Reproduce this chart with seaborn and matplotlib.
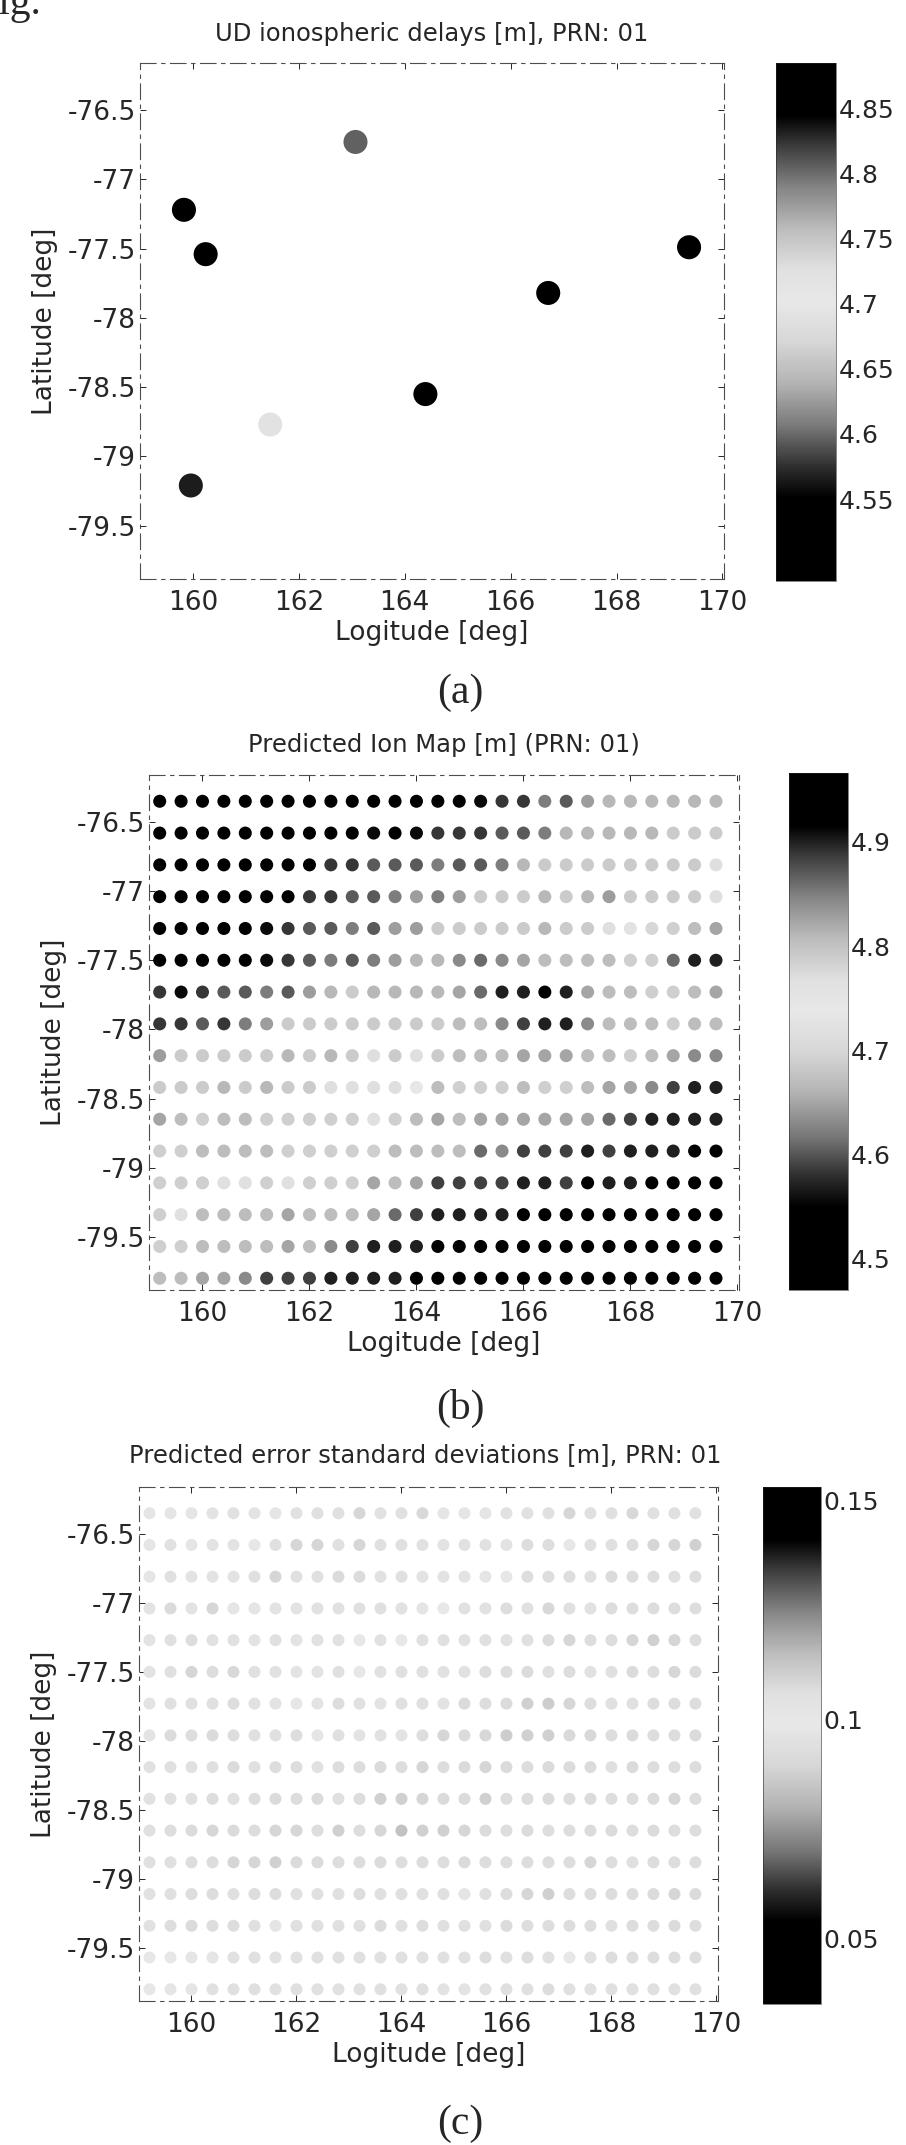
import numpy as np
import pandas as pd
import matplotlib
matplotlib.use("Agg")
import matplotlib.pyplot as plt
import seaborn as sns
from matplotlib.colors import LinearSegmentedColormap, Normalize
from matplotlib.ticker import FuncFormatter

# ---- panel (a): UD ionospheric delays at the stations ----
ud_lon = [163.07, 159.83, 160.24, 169.37, 166.71, 164.39, 161.46, 159.96]
ud_lat = [-76.73, -77.22, -77.54, -77.49, -77.82, -78.55, -78.77, -79.21]
ud_delay = [4.805, 4.885, 4.87, 4.50, 4.52, 4.487, 4.72, 4.565]
ud_range = (4.487, 4.885)
ud_cbar_ticks = [4.55, 4.6, 4.65, 4.7, 4.75, 4.8, 4.85]

# ---- grid used by panels (b) and (c) ----
grid_lon = [159.2, 159.6, 160.0, 160.4, 160.8, 161.2, 161.6, 162.0, 162.4,
            162.8, 163.2, 163.6, 164.0, 164.4, 164.8, 165.2, 165.6, 166.0,
            166.4, 166.8, 167.2, 167.6, 168.0, 168.4, 168.8, 169.2, 169.6]
grid_lat = [-76.35, -76.58, -76.81, -77.04, -77.27, -77.50, -77.73, -77.96,
            -78.19, -78.42, -78.65, -78.88, -79.11, -79.34, -79.57, -79.80]

# ---- panel (b): predicted ion map [m], one row per latitude ----
ion_map = [
    [4.96, 4.96, 4.96, 4.96, 4.96, 4.95, 4.95, 4.95, 4.95, 4.95, 4.94, 4.94, 4.94, 4.93,
     4.93, 4.91, 4.89, 4.89, 4.85, 4.87, 4.83, 4.81, 4.81, 4.81, 4.81, 4.81, 4.81],
    [4.96, 4.96, 4.95, 4.95, 4.95, 4.95, 4.94, 4.94, 4.94, 4.94, 4.91, 4.93, 4.91, 4.89,
     4.89, 4.89, 4.87, 4.87, 4.85, 4.81, 4.81, 4.81, 4.81, 4.81, 4.79, 4.79, 4.79],
    [4.95, 4.95, 4.95, 4.95, 4.95, 4.94, 4.94, 4.93, 4.89, 4.89, 4.87, 4.87, 4.87, 4.85,
     4.87, 4.87, 4.85, 4.81, 4.79, 4.79, 4.79, 4.79, 4.79, 4.79, 4.79, 4.79, 4.77],
    [4.95, 4.95, 4.95, 4.95, 4.94, 4.94, 4.93, 4.89, 4.89, 4.87, 4.87, 4.85, 4.83, 4.85,
     4.83, 4.79, 4.79, 4.79, 4.81, 4.79, 4.81, 4.83, 4.79, 4.79, 4.79, 4.79, 4.77],
    [4.95, 4.95, 4.94, 4.94, 4.93, 4.91, 4.89, 4.87, 4.87, 4.85, 4.87, 4.83, 4.83, 4.79,
     4.79, 4.79, 4.79, 4.79, 4.81, 4.79, 4.79, 4.77, 4.76, 4.70, 4.69, 4.67, 4.65],
    [4.95, 4.94, 4.94, 4.94, 4.93, 4.91, 4.89, 4.87, 4.85, 4.87, 4.85, 4.83, 4.81, 4.81,
     4.63, 4.61, 4.63, 4.65, 4.67, 4.67, 4.67, 4.67, 4.69, 4.69, 4.61, 4.57, 4.57],
    [4.89, 4.91, 4.89, 4.87, 4.87, 4.85, 4.87, 4.83, 4.81, 4.79, 4.81, 4.81, 4.81, 4.81,
     4.65, 4.61, 4.57, 4.57, 4.54, 4.57, 4.65, 4.67, 4.67, 4.69, 4.69, 4.67, 4.65],
    [4.89, 4.89, 4.87, 4.89, 4.85, 4.83, 4.79, 4.79, 4.79, 4.79, 4.79, 4.79, 4.79, 4.79,
     4.67, 4.67, 4.63, 4.59, 4.57, 4.57, 4.63, 4.67, 4.67, 4.67, 4.69, 4.67, 4.67],
    [4.83, 4.79, 4.79, 4.79, 4.79, 4.79, 4.81, 4.79, 4.81, 4.79, 4.77, 4.79, 4.77, 4.79,
     4.67, 4.67, 4.67, 4.65, 4.65, 4.65, 4.67, 4.67, 4.69, 4.67, 4.65, 4.63, 4.63],
    [4.79, 4.79, 4.79, 4.81, 4.79, 4.81, 4.79, 4.79, 4.77, 4.77, 4.77, 4.77, 4.74, 4.67,
     4.69, 4.69, 4.69, 4.67, 4.69, 4.69, 4.67, 4.65, 4.65, 4.63, 4.59, 4.57, 4.57],
    [4.65, 4.67, 4.69, 4.67, 4.67, 4.69, 4.69, 4.69, 4.69, 4.69, 4.72, 4.69, 4.67, 4.65,
     4.67, 4.65, 4.65, 4.65, 4.65, 4.65, 4.65, 4.61, 4.59, 4.57, 4.57, 4.57, 4.57],
    [4.69, 4.69, 4.67, 4.67, 4.67, 4.67, 4.69, 4.69, 4.69, 4.69, 4.69, 4.67, 4.67, 4.67,
     4.67, 4.61, 4.63, 4.59, 4.59, 4.59, 4.57, 4.59, 4.57, 4.57, 4.57, 4.54, 4.54],
    [4.69, 4.69, 4.69, 4.72, 4.72, 4.69, 4.72, 4.69, 4.69, 4.69, 4.65, 4.67, 4.65, 4.59,
     4.59, 4.59, 4.59, 4.57, 4.57, 4.59, 4.54, 4.57, 4.57, 4.51, 4.51, 4.51, 4.51],
    [4.69, 4.72, 4.67, 4.67, 4.67, 4.67, 4.65, 4.67, 4.67, 4.67, 4.65, 4.61, 4.59, 4.57,
     4.57, 4.57, 4.57, 4.54, 4.54, 4.54, 4.51, 4.54, 4.51, 4.50, 4.50, 4.50, 4.50],
    [4.69, 4.69, 4.67, 4.67, 4.67, 4.67, 4.65, 4.67, 4.63, 4.59, 4.57, 4.57, 4.57, 4.54,
     4.54, 4.51, 4.51, 4.50, 4.50, 4.50, 4.50, 4.49, 4.49, 4.49, 4.49, 4.48, 4.48],
    [4.67, 4.67, 4.65, 4.65, 4.63, 4.59, 4.59, 4.59, 4.57, 4.57, 4.57, 4.57, 4.54, 4.51,
     4.51, 4.50, 4.50, 4.49, 4.49, 4.49, 4.48, 4.48, 4.48, 4.47, 4.47, 4.47, 4.47],
]
ion_range = (4.47, 4.966)
ion_cbar_ticks = [4.5, 4.6, 4.7, 4.8, 4.9]

# ---- panel (c): predicted error standard deviations [m] ----
err_std = [
    [0.101, 0.097, 0.097, 0.096, 0.095, 0.096, 0.097, 0.095, 0.094, 0.094, 0.089, 0.095, 0.094, 0.090,
     0.101, 0.097, 0.097, 0.095, 0.095, 0.094, 0.089, 0.094, 0.094, 0.090, 0.094, 0.094, 0.095],
    [0.101, 0.095, 0.101, 0.096, 0.096, 0.098, 0.094, 0.089, 0.089, 0.094, 0.089, 0.094, 0.094, 0.095,
     0.096, 0.095, 0.095, 0.096, 0.093, 0.093, 0.098, 0.094, 0.094, 0.093, 0.089, 0.089, 0.088],
    [0.101, 0.094, 0.096, 0.096, 0.096, 0.094, 0.089, 0.094, 0.094, 0.092, 0.092, 0.095, 0.094, 0.096,
     0.096, 0.096, 0.097, 0.098, 0.093, 0.093, 0.093, 0.094, 0.092, 0.093, 0.093, 0.094, 0.093],
    [0.096, 0.092, 0.096, 0.089, 0.097, 0.097, 0.096, 0.096, 0.095, 0.095, 0.094, 0.094, 0.095, 0.097,
     0.099, 0.095, 0.095, 0.093, 0.095, 0.090, 0.094, 0.095, 0.093, 0.093, 0.093, 0.093, 0.093],
    [0.096, 0.094, 0.093, 0.095, 0.095, 0.096, 0.094, 0.096, 0.095, 0.095, 0.098, 0.095, 0.098, 0.094,
     0.094, 0.095, 0.094, 0.095, 0.094, 0.092, 0.089, 0.093, 0.093, 0.089, 0.088, 0.089, 0.093],
    [0.096, 0.094, 0.089, 0.093, 0.090, 0.094, 0.095, 0.096, 0.096, 0.094, 0.098, 0.095, 0.094, 0.094,
     0.095, 0.095, 0.093, 0.093, 0.092, 0.094, 0.093, 0.095, 0.094, 0.092, 0.093, 0.089, 0.092],
    [0.096, 0.094, 0.094, 0.094, 0.093, 0.095, 0.096, 0.098, 0.096, 0.093, 0.095, 0.096, 0.094, 0.094,
     0.096, 0.092, 0.093, 0.092, 0.088, 0.087, 0.089, 0.093, 0.094, 0.094, 0.093, 0.093, 0.093],
    [0.096, 0.092, 0.093, 0.092, 0.093, 0.094, 0.094, 0.093, 0.097, 0.094, 0.096, 0.095, 0.096, 0.093,
     0.089, 0.092, 0.090, 0.087, 0.088, 0.088, 0.091, 0.090, 0.093, 0.092, 0.093, 0.093, 0.092],
    [0.095, 0.094, 0.094, 0.094, 0.092, 0.094, 0.093, 0.093, 0.095, 0.093, 0.093, 0.092, 0.093, 0.089,
     0.093, 0.092, 0.089, 0.092, 0.093, 0.092, 0.092, 0.092, 0.094, 0.092, 0.093, 0.093, 0.093],
    [0.095, 0.094, 0.094, 0.093, 0.094, 0.093, 0.092, 0.093, 0.092, 0.094, 0.093, 0.088, 0.088, 0.089,
     0.092, 0.092, 0.088, 0.093, 0.093, 0.092, 0.093, 0.092, 0.093, 0.093, 0.092, 0.089, 0.093],
    [0.094, 0.093, 0.092, 0.089, 0.092, 0.093, 0.089, 0.089, 0.093, 0.088, 0.093, 0.089, 0.084, 0.088,
     0.088, 0.089, 0.092, 0.093, 0.092, 0.093, 0.093, 0.092, 0.092, 0.093, 0.092, 0.093, 0.093],
    [0.094, 0.094, 0.093, 0.093, 0.089, 0.089, 0.088, 0.092, 0.092, 0.093, 0.093, 0.092, 0.093, 0.093,
     0.093, 0.092, 0.093, 0.093, 0.093, 0.093, 0.093, 0.089, 0.093, 0.094, 0.093, 0.093, 0.093],
    [0.095, 0.094, 0.093, 0.093, 0.094, 0.093, 0.093, 0.094, 0.094, 0.094, 0.093, 0.094, 0.094, 0.094,
     0.094, 0.097, 0.094, 0.093, 0.089, 0.088, 0.093, 0.093, 0.093, 0.093, 0.092, 0.089, 0.092],
    [0.095, 0.093, 0.092, 0.093, 0.093, 0.094, 0.097, 0.094, 0.094, 0.094, 0.094, 0.092, 0.094, 0.093,
     0.094, 0.094, 0.094, 0.092, 0.093, 0.093, 0.093, 0.093, 0.094, 0.093, 0.093, 0.092, 0.093],
    [0.098, 0.098, 0.097, 0.097, 0.095, 0.094, 0.095, 0.095, 0.094, 0.094, 0.094, 0.094, 0.094, 0.094,
     0.094, 0.094, 0.093, 0.094, 0.093, 0.094, 0.098, 0.095, 0.093, 0.093, 0.093, 0.093, 0.093],
    [0.098, 0.097, 0.097, 0.095, 0.094, 0.094, 0.095, 0.094, 0.095, 0.095, 0.095, 0.094, 0.095, 0.094,
     0.096, 0.096, 0.095, 0.094, 0.094, 0.093, 0.094, 0.095, 0.094, 0.094, 0.094, 0.094, 0.094],
]
err_range = (0.035, 0.153)
err_cbar_ticks = [0.05, 0.1, 0.15]

lon_ticks = [160, 162, 164, 166, 168, 170]
lat_ticks = [-79.5, -79, -78.5, -78, -77.5, -77, -76.5]

# grayscale print of a jet-like map: dark at both ends, light in the middle
gray_pos = [0.0, 0.16, 0.22, 0.30, 0.38, 0.46, 0.54, 0.60, 0.68, 0.76, 0.84, 0.90, 1.0]
gray_lev = [0.0, 0.0, 0.18, 0.48, 0.70, 0.84, 0.91, 0.88, 0.74, 0.52, 0.24, 0.0, 0.0]
cmap = LinearSegmentedColormap.from_list(
    "printed_jet", [(p, (g, g, g)) for p, g in zip(gray_pos, gray_lev)])

sns.set_style("white")
plt.rcParams["font.family"] = ["DejaVu Sans"]
plt.rcParams["axes.unicode_minus"] = False
TICK_FS = 19
LABEL_FS = 19
TITLE_FS = 17.5


def grid_frame(values, name):
    rows = []
    for i, la in enumerate(grid_lat):
        for j, lo in enumerate(grid_lon):
            rows.append({"lon": lo, "lat": la, name: values[i][j]})
    return pd.DataFrame(rows)


def style_axes(ax):
    ax.set_xlim(159.0, 170.03)
    ax.set_ylim(-79.885, -76.16)
    ax.set_xticks(lon_ticks)
    ax.set_yticks(lat_ticks)
    ax.yaxis.set_major_formatter(FuncFormatter(lambda v, p: f"{v:g}"))
    ax.tick_params(direction="in", length=4, width=0.7, labelsize=TICK_FS,
                   left=True, bottom=True, right=True, top=True)
    ax.tick_params(axis="x", pad=8)
    ax.tick_params(axis="y", pad=3)
    for sp in ax.spines.values():
        sp.set_linestyle((0, (14, 5, 3, 5)))
        sp.set_linewidth(0.8)
        sp.set_color("0.3")
    ax.set_xlabel("Logitude [deg]", fontsize=LABEL_FS, labelpad=3)
    ax.set_ylabel("Latitude [deg]", fontsize=LABEL_FS, labelpad=7)


def add_cbar(fig, rect, rng, ticks):
    cax = fig.add_axes(rect)
    sm = plt.cm.ScalarMappable(norm=Normalize(*rng), cmap=cmap)
    cb = fig.colorbar(sm, cax=cax, ticks=ticks)
    cb.ax.yaxis.set_major_formatter(FuncFormatter(lambda v, p: f"{v:g}"))
    cb.ax.tick_params(labelsize=18, length=0, pad=2)
    cb.outline.set_linewidth(0.4)
    return cb


W, H = 906, 2145
fig = plt.figure(figsize=(W / 100, H / 100), dpi=100)


def px_rect(left, top, right, bottom):
    return [left / W, 1 - bottom / H, (right - left) / W, (bottom - top) / H]


# (a)
ax_a = fig.add_axes(px_rect(140, 63, 724, 579))
df_a = pd.DataFrame({"lon": ud_lon, "lat": ud_lat, "delay": ud_delay})
sns.scatterplot(data=df_a, x="lon", y="lat", hue="delay", palette=cmap,
                hue_norm=Normalize(*ud_range), s=300, linewidth=0,
                legend=False, ax=ax_a)
style_axes(ax_a)
add_cbar(fig, px_rect(776, 63, 836, 581), ud_range, ud_cbar_ticks)
fig.text(432 / W, 1 - 34 / H, "UD ionospheric delays [m], PRN: 01",
         ha="center", va="center", fontsize=TITLE_FS)

# (b)
ax_b = fig.add_axes(px_rect(149, 775, 739, 1290))
sns.scatterplot(data=grid_frame(ion_map, "ion"), x="lon", y="lat", hue="ion",
                palette=cmap, hue_norm=Normalize(*ion_range), s=88,
                linewidth=0, legend=False, ax=ax_b)
style_axes(ax_b)
add_cbar(fig, px_rect(789, 773, 848, 1290), ion_range, ion_cbar_ticks)
fig.text(444 / W, 1 - 745 / H, "Predicted Ion Map [m] (PRN: 01)",
         ha="center", va="center", fontsize=TITLE_FS)

# (c)
ax_c = fig.add_axes(px_rect(139, 1487, 718, 2001))
sns.scatterplot(data=grid_frame(err_std, "std"), x="lon", y="lat", hue="std",
                palette=cmap, hue_norm=Normalize(*err_range), s=75,
                linewidth=0, legend=False, ax=ax_c)
style_axes(ax_c)
add_cbar(fig, px_rect(763, 1487, 821, 2004), err_range, err_cbar_ticks)
fig.text(425 / W, 1 - 1455 / H, "Predicted error standard deviations [m], PRN: 01",
         ha="center", va="center", fontsize=TITLE_FS)

# panel letters and the cut-off caption fragment of the scan
serif = ["Liberation Serif", "DejaVu Serif"]
for lab, yc in [("(a)", 693), ("(b)", 1408), ("(c)", 2124)]:
    fig.text(460 / W, 1 - yc / H, lab, ha="center", va="center",
             fontsize=30, family=serif)
fig.text(-24 / W, 1 - 14 / H, "Fig.", ha="left", va="baseline",
         fontsize=30, family=serif)

fig.savefig("out.png", dpi=100)
